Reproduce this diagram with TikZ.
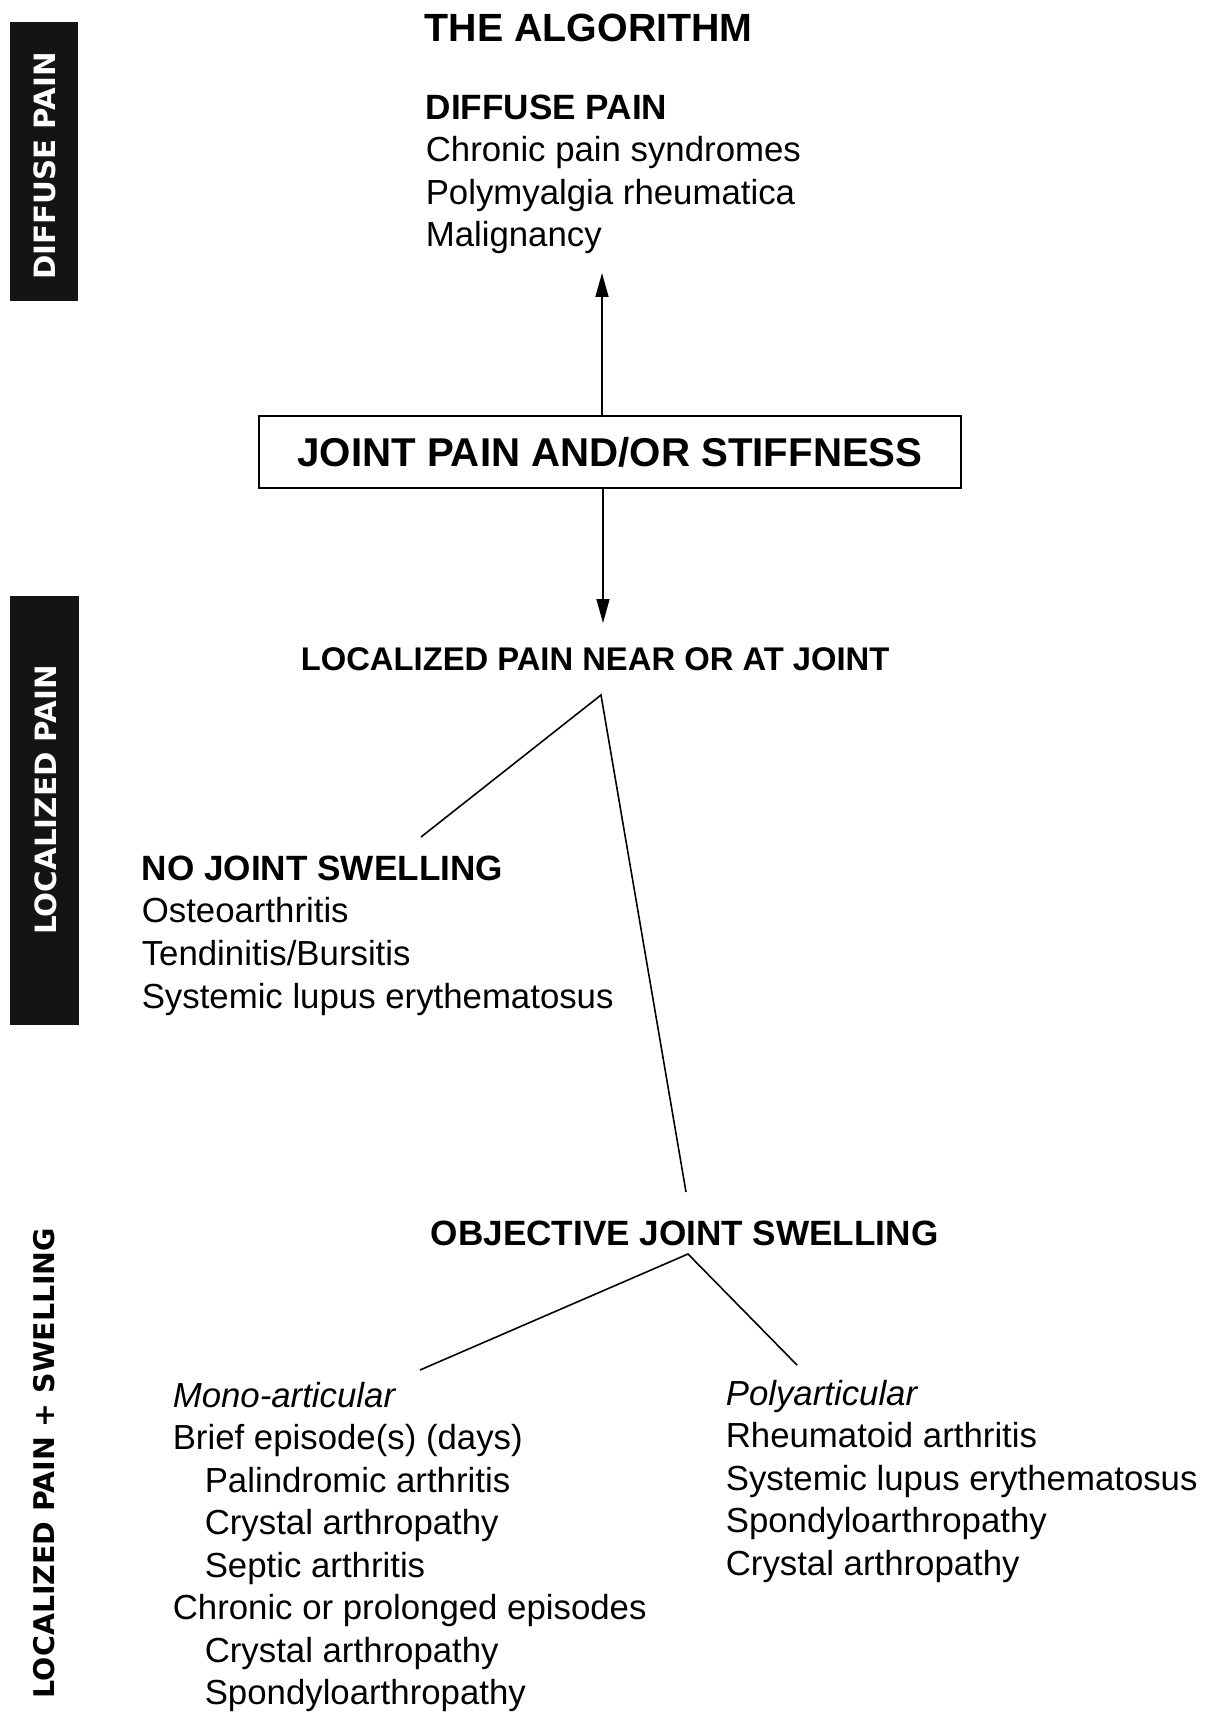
\documentclass[tikz,border=0pt]{standalone}
\usepackage{fontspec}
\setmainfont{Liberation Sans}
\newfontfamily\barfont{DejaVu Sans}
\usetikzlibrary{arrows.meta}

\begin{document}
\begin{tikzpicture}[x=0.02cm, y=-0.02cm, line width=0.9pt,
    item/.style={anchor=base west, inner sep=0pt, font=\fontsize{19.8}{24}\selectfont},
    ital/.style={item, font=\fontsize{19.8}{24}\selectfont\itshape},
    head/.style={anchor=base west, inner sep=0pt, font=\fontsize{20}{24}\selectfont\bfseries},
    bartext/.style={rotate=90, inner sep=0pt, font=\barfont\bfseries\fontsize{16.7}{20}\selectfont},
    tip/.style={-{Triangle[length=0.48cm, width=0.26cm]}}]
            \useasboundingbox (0,0) rectangle (1216,1717);
            % Side bars
            \fill[black!92] (10,22) rectangle (78,301);
            \fill[black!92] (10,596) rectangle (79,1025);
            \node[bartext, white] (bdiffuse) at (45,166) {DIFFUSE PAIN};
            \node[bartext, white] (blocal) at (46,800) {LOCALIZED PAIN};
            \node[bartext, font=\barfont\bfseries\fontsize{16.2}{20}\selectfont] (bswell) at (44,1463) {LOCALIZED PAIN + SWELLING};
            % Title and diffuse pain
            \node[anchor=base west, inner sep=0pt, font=\fontsize{22.4}{26}\selectfont\bfseries] (title) at (424,42) {THE ALGORITHM};
            \node[head] (diffuse) at (425,119) {DIFFUSE PAIN};
            \foreach \t [count=\i] in {Chronic pain syndromes, Polymyalgia rheumatica, Malignancy}{
                \node[item] (diff\i) at (425,{119+42.5*\i}) {\t};
            }
            % Main box
            \node[draw, line width=1pt, minimum width=14.04cm, minimum height=1.44cm,
                  font=\fontsize{22.9}{26}\selectfont\bfseries] (joint) at (610,452) {JOINT PAIN AND/OR STIFFNESS};
            \coordinate (uptip) at (602,273);
            \coordinate (downtip) at (603,623);
            \draw[tip] (joint.north -| uptip) -- (uptip);
            \draw[tip] (joint.south -| downtip) -- (downtip);
            % Localized pain
            \node[anchor=base west, inner sep=0pt, font=\fontsize{18.65}{22}\selectfont\bfseries] (local) at (300,670) {LOCALIZED PAIN NEAR OR AT JOINT};
            \coordinate (localfork) at (601,695);
            \coordinate (noswtop) at (421,837);
            \coordinate (objtop) at (686,1192);
            \draw (noswtop) -- (localfork) -- (objtop);
            \node[head] (nosw) at (141,880) {NO JOINT SWELLING};
            \foreach \t [count=\i] in {Osteoarthritis, Tendinitis/Bursitis, Systemic lupus erythematosus}{
                \node[item] (nosw\i) at (141,{880+42.7*\i}) {\t};
            }
            % Objective swelling
            \node[head] (objective) at (430,1245) {OBJECTIVE JOINT SWELLING};
            \coordinate (objfork) at (688,1254);
            \coordinate (monotop) at (420,1370);
            \coordinate (polytop) at (797,1365);
            \draw (monotop) -- (objfork) -- (polytop);
            \node[ital] (mono) at (172,1407) {Mono-articular};
            \foreach \x/\t [count=\i] in {172/Brief episode(s) (days), 204/Palindromic arthritis,
                204/Crystal arthropathy, 204/Septic arthritis, 172/Chronic or prolonged episodes,
                204/Crystal arthropathy, 204/Spondyloarthropathy}{
                \node[item] (mono\i) at (\x,{1407+42.5*\i}) {\t};
            }
            \node[ital] (poly) at (725,1405) {Polyarticular};
            \foreach \t [count=\i] in {Rheumatoid arthritis, Systemic lupus erythematosus,
                Spondyloarthropathy, Crystal arthropathy}{
                \node[item] (poly\i) at (725,{1405+42.5*\i}) {\t};
            }
          \end{tikzpicture}
\end{document}
